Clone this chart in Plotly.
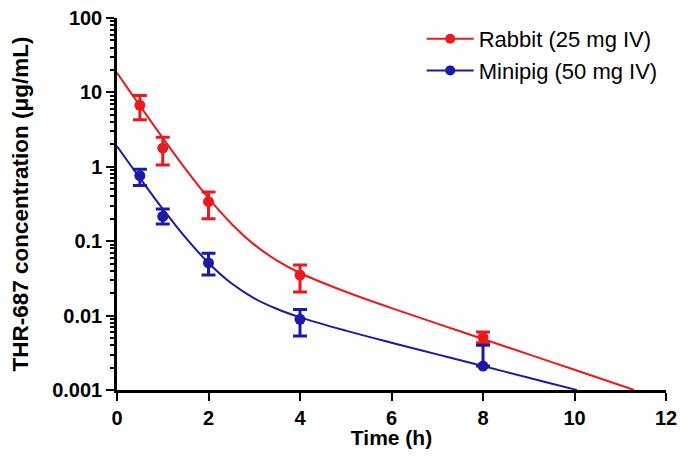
import plotly.graph_objects as go

# Observed data (mean, upper error, lower error)
times = [0.5, 1, 2, 4, 8]
rabbit_mean = [6.7, 1.78, 0.34, 0.035, 0.0051]
rabbit_hi = [9.1, 2.5, 0.46, 0.048, 0.0060]
rabbit_lo = [4.3, 1.06, 0.20, 0.0207, 0.0043]
minipig_mean = [0.76, 0.215, 0.051, 0.0089, 0.0021]
minipig_hi = [0.93, 0.27, 0.069, 0.0121, 0.0040]
minipig_lo = [0.56, 0.17, 0.035, 0.0053, 0.0021]

# Fitted curves
rabbit_fit_t = [0, 0.25, 0.5, 0.75, 1, 1.5, 2, 2.5, 3, 3.5, 4, 5, 6, 7, 8, 9, 10, 11, 11.3]
rabbit_fit_c = [18.3, 11.0, 6.63, 4.01, 2.44, 0.93, 0.379, 0.172, 0.090, 0.0548, 0.0374,
                0.0209, 0.0126, 0.0078, 0.00485, 0.00301, 0.00187, 0.00116, 0.001]
minipig_fit_t = [0, 0.25, 0.5, 0.75, 1, 1.5, 2, 2.5, 3, 3.5, 4, 5, 6, 7, 8, 9, 10, 10.05]
minipig_fit_c = [1.89, 1.151, 0.705, 0.4355, 0.272, 0.1114, 0.051, 0.0272, 0.0171, 0.01225,
                 0.00948, 0.00628, 0.00432, 0.00301, 0.0021, 0.00146, 0.00102, 0.001]

y_tickvals = [0.001, 0.01, 0.1, 1, 10, 100]
y_ticktext = ["0.001", "0.01", "0.1", "1", "10", "100"]
x_tickvals = [0, 2, 4, 6, 8, 10, 12]

RED = "#e8191f"
BLUE = "#1a1aa6"
FONT = "Liberation Sans, Arial, sans-serif"

fig = go.Figure()

def add_series(name, color, fit_t, fit_c, mean, hi, lo):
    fig.add_trace(go.Scatter(x=fit_t, y=fit_c, mode="lines", line=dict(color=color, width=2, shape="spline"),
                             showlegend=False, hoverinfo="skip"))
    fig.add_trace(go.Scatter(
        x=times, y=mean, mode="markers",
        marker=dict(color=color, size=11, symbol="circle"),
        error_y=dict(type="data", symmetric=False,
                     array=[h - m for h, m in zip(hi, mean)],
                     arrayminus=[m - l for m, l in zip(mean, lo)],
                     color=color, thickness=3, width=7),
        showlegend=False))
    fig.add_trace(go.Scatter(x=[None], y=[None], mode="lines+markers", name=name,
                             line=dict(color=color, width=2),
                             marker=dict(color=color, size=10)))

add_series("Rabbit (25 mg IV)", RED, rabbit_fit_t, rabbit_fit_c, rabbit_mean, rabbit_hi, rabbit_lo)
add_series("Minipig (50 mg IV)", BLUE, minipig_fit_t, minipig_fit_c, minipig_mean, minipig_hi, minipig_lo)

fig.update_layout(
    width=669, height=441,
    margin=dict(l=109, r=11, t=10, b=59),
    plot_bgcolor="white", paper_bgcolor="white",
    font=dict(family=FONT, color="black"),
    legend=dict(x=0.555, y=1.0, xanchor="left", yanchor="top",
                font=dict(size=22, color="black", family=FONT), bgcolor="rgba(0,0,0,0)",
                itemwidth=47, tracegroupgap=0),
)
fig.update_xaxes(
    range=[0, 12], tickvals=x_tickvals, showline=True, linecolor="black", linewidth=2.5,
    ticks="outside", ticklen=8, tickwidth=2, tickcolor="black", showgrid=False, zeroline=False,
    automargin=False, ticklabeloverflow="allow",
    tickfont=dict(size=20, family=FONT, weight="bold"),
    title=dict(text="<b>Time (h)</b>", font=dict(size=21, family=FONT), standoff=10),
)
fig.update_yaxes(
    type="log", range=[-3, 2], tickvals=y_tickvals, ticktext=y_ticktext,
    showline=True, linecolor="black", linewidth=2.5,
    ticks="outside", ticklen=8, tickwidth=2, tickcolor="black", showgrid=False, zeroline=False,
    automargin=False, ticklabeloverflow="allow",
    minor=dict(ticks="outside", ticklen=4, tickwidth=1.5, tickcolor="black", showgrid=False, dtick="D1"),
    tickfont=dict(size=20, family=FONT, weight="bold"),
    title=dict(text="<b>THR-687 concentration (μg/mL)</b>", font=dict(size=22.5, family=FONT), standoff=30),
)

fig.write_html("out.html")
